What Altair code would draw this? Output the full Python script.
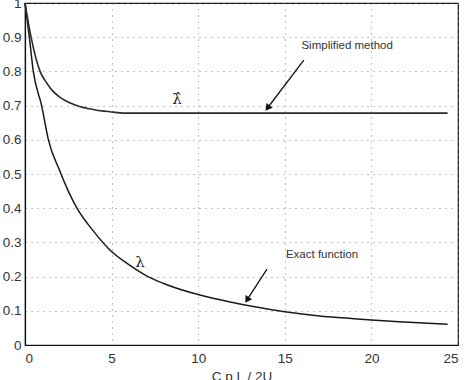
import altair as alt
import pandas as pd

# Exact function (lambda)
x_exact = [0, 0.25, 0.48, 0.96, 1.35, 2.0, 2.5, 3.0, 4.0, 4.9, 6.0, 7.1, 8.0, 10.1, 12.0, 13.1, 15.0, 17.0, 18.7, 20.0, 21.6, 24.4]
y_exact = [1.0, 0.9, 0.8, 0.7, 0.6, 0.51, 0.45, 0.4, 0.33, 0.278, 0.235, 0.2, 0.18, 0.146, 0.124, 0.113, 0.097, 0.085, 0.078, 0.073, 0.068, 0.061]

# Simplified method (lambda hat)
x_simp = [0, 0.35, 0.87, 1.2, 1.54, 2.0, 2.9, 4.0, 4.9, 5.8, 24.4]
y_simp = [1.0, 0.9, 0.8, 0.77, 0.746, 0.725, 0.702, 0.688, 0.682, 0.678, 0.678]

x_ticks = [0, 5, 10, 15, 20, 25]
y_ticks = [0, 0.1, 0.2, 0.3, 0.4, 0.5, 0.6, 0.7, 0.8, 0.9, 1]

# annotations
texts = ["Simplified method", "Exact function"]
text_x = [18.6, 17.15]
text_y = [0.874, 0.263]
arrow_x = [16.1, 13.97]
arrow_y = [0.833, 0.222]
arrow_x2 = [14.0, 12.82]
arrow_y2 = [0.693, 0.132]
arrow_angle = [218, 213]

sym = ["λ", "λ\u0302"]
sym_x = [6.64, 8.78]
sym_y = [0.243, 0.72]

df_exact = pd.DataFrame({"x": x_exact, "y": y_exact})
df_simp = pd.DataFrame({"x": x_simp, "y": y_simp})
df_text = pd.DataFrame({"t": texts, "x": text_x, "y": text_y})
df_arrow = pd.DataFrame({"x": arrow_x, "y": arrow_y, "x2": arrow_x2, "y2": arrow_y2, "a": arrow_angle})
df_sym = pd.DataFrame({"t": sym, "x": sym_x, "y": sym_y})

xscale = alt.Scale(domain=[0, 25], nice=False, zero=False)
yscale = alt.Scale(domain=[0, 1], nice=False)

xaxis = alt.Axis(values=x_ticks, title="C p L / 2U", grid=True, ticks=False, labelOverlap=False,
                 labelPadding=6, titlePadding=5, format="d")
yaxis = alt.Axis(values=y_ticks, title=None, grid=True, ticks=False, labelOverlap=False,
                 labelPadding=4, labelExpr="datum.value == 0 ? '0' : datum.value == 1 ? '1' : format(datum.value, '.1f')")


def X(field):
    return alt.X(field, type="quantitative", scale=xscale, axis=xaxis)


def Y(field):
    return alt.Y(field, type="quantitative", scale=yscale, axis=yaxis)


exact = alt.Chart(df_exact).mark_line(color="#1a1a1a", strokeWidth=1.5, interpolate="monotone").encode(
    x=X("x"), y=Y("y"),
)
simp = alt.Chart(df_simp).mark_line(color="#2a2a2a", strokeWidth=1.6, interpolate="monotone").encode(
    x=X("x"), y=Y("y"),
)
labels = alt.Chart(df_text).mark_text(font="Liberation Sans", fontSize=11.5, color="#333333").encode(
    x=X("x"), y=Y("y"), text="t:N"
)
shafts = alt.Chart(df_arrow).mark_rule(color="#111111", strokeWidth=1.3).encode(
    x=X("x"), y=Y("y"), x2="x2:Q", y2="y2:Q"
)
heads = alt.Chart(df_arrow).mark_point(shape="triangle-up", filled=True, color="#111111", size=60, opacity=1).encode(
    x=X("x2"), y=Y("y2"), angle=alt.Angle("a:Q", scale=None)
)
syms = alt.Chart(df_sym).mark_text(font="DejaVu Serif", fontSize=15, color="#222222").encode(
    x=X("x"), y=Y("y"), text="t:N"
)

chart = alt.layer(exact, simp, shafts, heads, labels, syms).properties(
    width=433, height=342,
    autosize=alt.AutoSizeParams(type="none"),
    padding={"left": 25, "top": 3, "right": 14, "bottom": 35},
).configure_view(stroke="#111111", strokeWidth=1.2).configure_axis(
    domainColor="#111111", domainWidth=1.2,
    gridColor="#777777", gridDash=[1, 5], gridWidth=1, gridOpacity=0.9,
    labelFont="Liberation Sans", labelFontSize=13.5, labelColor="#333333",
    titleFont="Liberation Sans", titleFontSize=13.5, titleColor="#333333", titleFontWeight="normal",
)

chart.save("out.html", embed_options={"renderer": "svg", "actions": False})
